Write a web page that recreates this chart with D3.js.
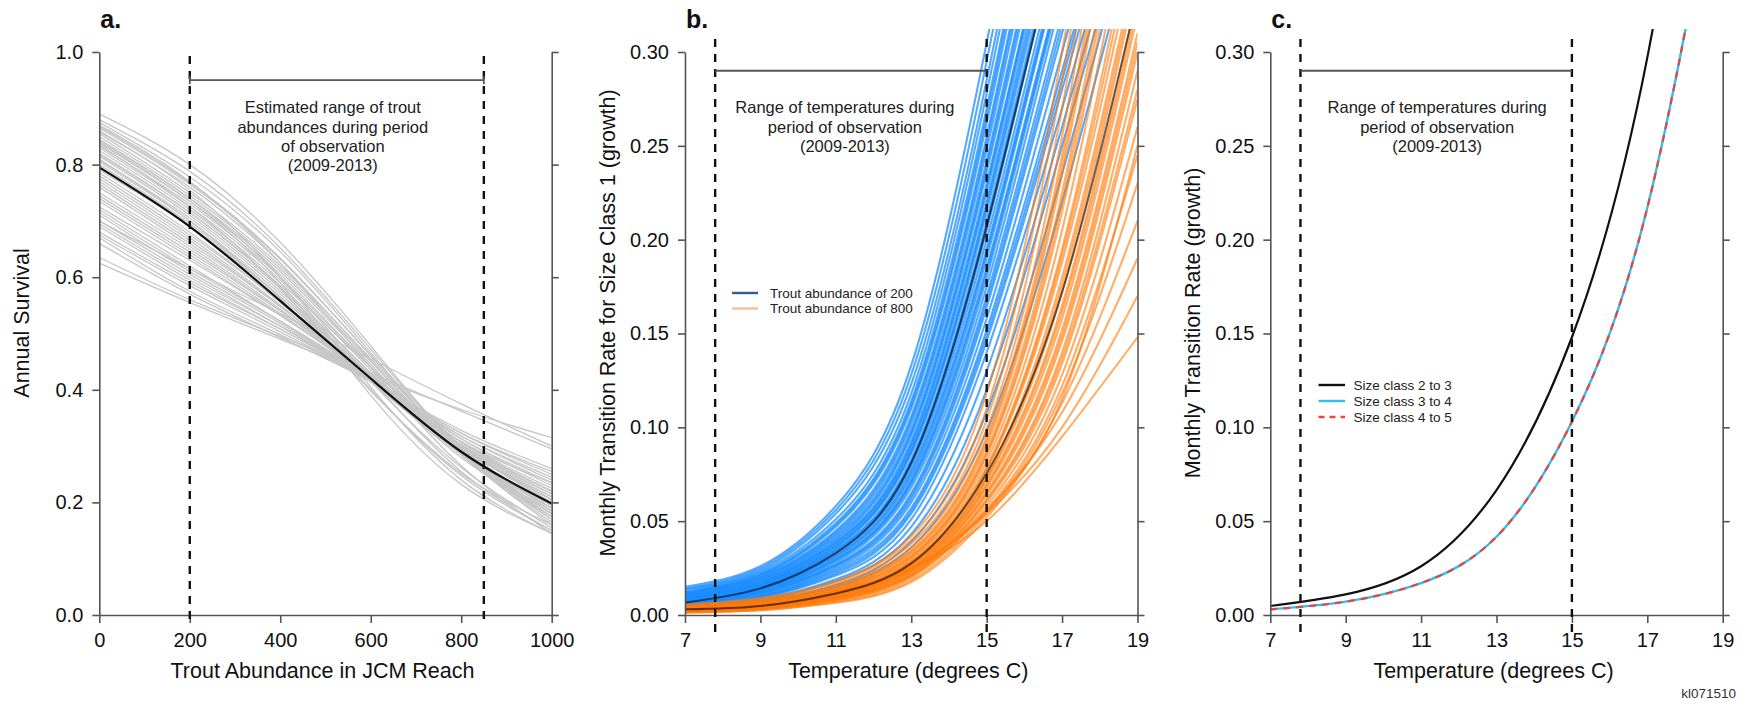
<!DOCTYPE html>
<html>
<head>
<meta charset="utf-8">
<script src="https://cdn.jsdelivr.net/npm/d3@7"></script>
<style>
  html, body { margin: 0; padding: 0; background: #ffffff; }
  svg { display: block; }
</style>
</head>
<body>
<svg id="chart" width="1751" height="703"></svg>
<script>
// ---------------- DATA ----------------
// Panel a: annual survival vs trout abundance
const abundanceX = [0, 200, 400, 600, 800, 1000];
const abundanceTicks = [0, 200, 400, 600, 800, 1000];
const survivalTicks = [0, 0.2, 0.4, 0.6, 0.8, 1.0];
const abundanceRange = [200, 850];
const survivalMean = [0.795, 0.690, 0.558, 0.420, 0.290, 0.198];
const survivalDraws = [
  [0.890, 0.800, 0.662, 0.478, 0.295, 0.170],
  [0.880, 0.788, 0.652, 0.472, 0.298, 0.180],
  [0.875, 0.778, 0.645, 0.466, 0.288, 0.160],
  [0.870, 0.770, 0.625, 0.440, 0.265, 0.145],
  [0.868, 0.768, 0.634, 0.460, 0.292, 0.175],
  [0.865, 0.765, 0.632, 0.462, 0.300, 0.185],
  [0.860, 0.755, 0.600, 0.405, 0.240, 0.145],
  [0.858, 0.760, 0.625, 0.452, 0.285, 0.165],
  [0.855, 0.750, 0.620, 0.455, 0.295, 0.180],
  [0.850, 0.745, 0.615, 0.450, 0.295, 0.190],
  [0.845, 0.740, 0.600, 0.420, 0.255, 0.150],
  [0.843, 0.740, 0.610, 0.445, 0.285, 0.170],
  [0.840, 0.735, 0.590, 0.390, 0.232, 0.145],
  [0.838, 0.735, 0.605, 0.440, 0.290, 0.180],
  [0.835, 0.725, 0.580, 0.400, 0.248, 0.150],
  [0.833, 0.730, 0.600, 0.440, 0.295, 0.195],
  [0.830, 0.725, 0.595, 0.435, 0.285, 0.175],
  [0.825, 0.720, 0.590, 0.440, 0.300, 0.200],
  [0.820, 0.715, 0.582, 0.415, 0.262, 0.155],
  [0.818, 0.715, 0.585, 0.430, 0.285, 0.180],
  [0.815, 0.710, 0.580, 0.430, 0.290, 0.190],
  [0.810, 0.700, 0.562, 0.398, 0.252, 0.160],
  [0.808, 0.705, 0.575, 0.425, 0.285, 0.185],
  [0.805, 0.700, 0.570, 0.425, 0.290, 0.195],
  [0.800, 0.695, 0.565, 0.420, 0.280, 0.175],
  [0.790, 0.690, 0.565, 0.428, 0.297, 0.205],
  [0.785, 0.680, 0.555, 0.418, 0.287, 0.190],
  [0.780, 0.675, 0.557, 0.425, 0.298, 0.210],
  [0.775, 0.670, 0.550, 0.415, 0.286, 0.195],
  [0.770, 0.665, 0.548, 0.418, 0.290, 0.195],
  [0.765, 0.660, 0.548, 0.422, 0.300, 0.215],
  [0.760, 0.655, 0.543, 0.418, 0.296, 0.205],
  [0.750, 0.650, 0.540, 0.420, 0.302, 0.215],
  [0.745, 0.645, 0.540, 0.425, 0.307, 0.220],
  [0.740, 0.640, 0.535, 0.418, 0.298, 0.205],
  [0.735, 0.635, 0.532, 0.420, 0.303, 0.220],
  [0.725, 0.630, 0.532, 0.425, 0.313, 0.230],
  [0.720, 0.620, 0.522, 0.415, 0.298, 0.210],
  [0.715, 0.615, 0.522, 0.420, 0.308, 0.225],
  [0.710, 0.610, 0.518, 0.415, 0.303, 0.220],
  [0.700, 0.605, 0.513, 0.415, 0.308, 0.235],
  [0.700, 0.615, 0.535, 0.455, 0.375, 0.300],
  [0.695, 0.600, 0.513, 0.420, 0.318, 0.240],
  [0.690, 0.595, 0.508, 0.415, 0.313, 0.235],
  [0.680, 0.590, 0.508, 0.420, 0.323, 0.250],
  [0.675, 0.585, 0.503, 0.415, 0.318, 0.245],
  [0.670, 0.575, 0.498, 0.415, 0.323, 0.255],
  [0.660, 0.570, 0.493, 0.415, 0.328, 0.260],
  [0.635, 0.560, 0.495, 0.430, 0.362, 0.295],
  [0.625, 0.555, 0.490, 0.425, 0.365, 0.315]
];

// Panel b & c: monthly transition rate vs temperature
const tempX = [7, 9, 11, 13, 15, 17, 19];
const tempTicks = [7, 9, 11, 13, 15, 17, 19];
const rateTicks = [0, 0.05, 0.10, 0.15, 0.20, 0.25, 0.30];
const tempRange = [7.8, 15];

const growth200Mean = [0.0066, 0.0142, 0.0330, 0.0810, 0.207, 0.370, 0.520];
const growth200Draws = [
  [0.0150, 0.0260, 0.058, 0.133, 0.305, 0.50, 0.65],
  [0.0140, 0.0250, 0.056, 0.128, 0.295, 0.49, 0.64],
  [0.0135, 0.0240, 0.054, 0.123, 0.285, 0.48, 0.63],
  [0.0125, 0.0230, 0.051, 0.118, 0.278, 0.47, 0.62],
  [0.0120, 0.0222, 0.049, 0.114, 0.270, 0.46, 0.61],
  [0.0118, 0.0215, 0.048, 0.112, 0.266, 0.455, 0.60],
  [0.0115, 0.0212, 0.047, 0.110, 0.262, 0.45, 0.60],
  [0.0110, 0.0205, 0.045, 0.106, 0.255, 0.44, 0.59],
  [0.0108, 0.0200, 0.044, 0.104, 0.252, 0.435, 0.58],
  [0.0105, 0.0198, 0.043, 0.102, 0.248, 0.43, 0.58],
  [0.0100, 0.0190, 0.042, 0.099, 0.242, 0.42, 0.57],
  [0.0098, 0.0186, 0.041, 0.097, 0.239, 0.415, 0.56],
  [0.0096, 0.0183, 0.040, 0.096, 0.236, 0.41, 0.56],
  [0.0092, 0.0176, 0.039, 0.093, 0.230, 0.40, 0.55],
  [0.0090, 0.0173, 0.0385, 0.091, 0.228, 0.40, 0.55],
  [0.0088, 0.0170, 0.038, 0.090, 0.225, 0.395, 0.54],
  [0.0084, 0.0165, 0.037, 0.088, 0.220, 0.39, 0.53],
  [0.0082, 0.0162, 0.0365, 0.087, 0.218, 0.385, 0.53],
  [0.0080, 0.0160, 0.036, 0.086, 0.215, 0.38, 0.52],
  [0.0076, 0.0155, 0.035, 0.083, 0.210, 0.375, 0.52],
  [0.0074, 0.0152, 0.0345, 0.082, 0.208, 0.372, 0.52],
  [0.0072, 0.0150, 0.034, 0.081, 0.205, 0.37, 0.51],
  [0.0068, 0.0145, 0.033, 0.079, 0.200, 0.36, 0.50],
  [0.0066, 0.0140, 0.032, 0.077, 0.195, 0.355, 0.50],
  [0.0065, 0.0138, 0.0315, 0.0755, 0.193, 0.352, 0.50],
  [0.0063, 0.0135, 0.031, 0.074, 0.190, 0.35, 0.49],
  [0.0060, 0.0130, 0.030, 0.072, 0.185, 0.34, 0.48],
  [0.0059, 0.0128, 0.0295, 0.071, 0.183, 0.338, 0.48],
  [0.0058, 0.0126, 0.029, 0.070, 0.180, 0.335, 0.47],
  [0.0056, 0.0122, 0.028, 0.068, 0.175, 0.33, 0.47],
  [0.0054, 0.0118, 0.027, 0.065, 0.170, 0.32, 0.46],
  [0.0053, 0.0115, 0.0265, 0.0635, 0.167, 0.315, 0.46],
  [0.0052, 0.0112, 0.026, 0.062, 0.164, 0.31, 0.45],
  [0.0050, 0.0106, 0.025, 0.060, 0.158, 0.30, 0.44],
  [0.0048, 0.0100, 0.024, 0.057, 0.152, 0.29, 0.43],
  [0.0047, 0.0098, 0.023, 0.0555, 0.149, 0.285, 0.43],
  [0.0046, 0.0095, 0.022, 0.054, 0.146, 0.28, 0.42],
  [0.0045, 0.0090, 0.021, 0.051, 0.140, 0.27, 0.41],
  [0.0043, 0.0083, 0.019, 0.047, 0.130, 0.26, 0.40],
  [0.0042, 0.0078, 0.018, 0.043, 0.120, 0.25, 0.39],
  [0.0040, 0.0072, 0.016, 0.039, 0.108, 0.235, 0.38],
  [0.0038, 0.0068, 0.015, 0.036, 0.098, 0.22, 0.37]
];

const growth800Mean = [0.0030, 0.0048, 0.0115, 0.0275, 0.0755, 0.172, 0.330];
const growth800Draws = [
  [0.0055, 0.0090, 0.0180, 0.0420, 0.118, 0.300, 0.56],
  [0.0050, 0.0085, 0.0170, 0.0400, 0.110, 0.285, 0.54],
  [0.0047, 0.0080, 0.0160, 0.0380, 0.104, 0.270, 0.52],
  [0.0044, 0.0075, 0.0152, 0.0360, 0.099, 0.255, 0.50],
  [0.0042, 0.0071, 0.0145, 0.0345, 0.095, 0.245, 0.48],
  [0.0041, 0.0069, 0.0142, 0.0338, 0.093, 0.240, 0.47],
  [0.0040, 0.0067, 0.0140, 0.0330, 0.091, 0.235, 0.46],
  [0.0038, 0.0064, 0.0134, 0.0318, 0.088, 0.225, 0.44],
  [0.0037, 0.0062, 0.0131, 0.0312, 0.086, 0.220, 0.43],
  [0.0036, 0.0061, 0.0129, 0.0306, 0.085, 0.215, 0.42],
  [0.0034, 0.0058, 0.0124, 0.0296, 0.082, 0.205, 0.40],
  [0.0033, 0.0055, 0.0120, 0.0287, 0.079, 0.195, 0.38],
  [0.0032, 0.0054, 0.0118, 0.0283, 0.078, 0.192, 0.37],
  [0.0031, 0.0052, 0.0116, 0.0278, 0.077, 0.188, 0.36],
  [0.0030, 0.0050, 0.0112, 0.0270, 0.074, 0.180, 0.35],
  [0.0029, 0.0048, 0.0110, 0.0266, 0.073, 0.176, 0.345],
  [0.0028, 0.0047, 0.0108, 0.0262, 0.072, 0.172, 0.34],
  [0.0027, 0.0045, 0.0104, 0.0254, 0.070, 0.165, 0.33],
  [0.0026, 0.0044, 0.0102, 0.0250, 0.069, 0.162, 0.325],
  [0.0025, 0.0042, 0.0100, 0.0246, 0.068, 0.158, 0.32],
  [0.0024, 0.0040, 0.0096, 0.0238, 0.066, 0.152, 0.31],
  [0.0023, 0.0039, 0.0094, 0.0234, 0.065, 0.149, 0.305],
  [0.0022, 0.0038, 0.0092, 0.0230, 0.064, 0.146, 0.30],
  [0.0021, 0.0036, 0.0088, 0.0222, 0.062, 0.140, 0.29],
  [0.0020, 0.0035, 0.0086, 0.0218, 0.061, 0.137, 0.28],
  [0.0019, 0.0034, 0.0084, 0.0214, 0.060, 0.134, 0.275],
  [0.0018, 0.0032, 0.0080, 0.0206, 0.058, 0.128, 0.26],
  [0.0016, 0.0030, 0.0076, 0.0198, 0.056, 0.122, 0.245],
  [0.0014, 0.0027, 0.0070, 0.0185, 0.054, 0.118, 0.23],
  [0.0012, 0.0025, 0.0065, 0.0175, 0.052, 0.113, 0.21],
  [0.0025, 0.0045, 0.0095, 0.0210, 0.055, 0.115, 0.25],
  [0.0030, 0.0055, 0.0110, 0.0240, 0.056, 0.108, 0.19],
  [0.0035, 0.0060, 0.0120, 0.0250, 0.054, 0.100, 0.17],
  [0.0040, 0.0065, 0.0125, 0.0250, 0.050, 0.095, 0.148]
];

const sizeClass23 = [0.0048, 0.0110, 0.0260, 0.0666, 0.148, 0.297, 0.55];
const sizeClass34 = [0.0030, 0.0071, 0.0170, 0.0417, 0.103, 0.217, 0.42];
const sizeClass45 = [0.0030, 0.0071, 0.0170, 0.0417, 0.103, 0.217, 0.42];

const legendB = ["Trout abundance of 200", "Trout abundance of 800"];
const legendC = ["Size class 2 to 3", "Size class 3 to 4", "Size class 4 to 5"];

// ---------------- LAYOUT / STYLE ----------------
const FONT = "'Liberation Sans', Arial, Helvetica, sans-serif";
const TOP = 52, BOTTOM = 615, CLIP_TOP = 29;
const AXIS_COLOR = "#555";
const svg = d3.select("#chart");
const defs = svg.append("defs");

function makePanel(p) {
  const x = d3.scaleLinear().domain(p.xDomain).range([p.x0, p.x1]);
  const y = d3.scaleLinear().domain(p.yDomain).range([BOTTOM, TOP]);
  const g = svg.append("g").attr("class", "panel-" + p.key);
  defs.append("clipPath").attr("id", "clip-" + p.key)
    .append("rect").attr("x", p.x0).attr("y", CLIP_TOP)
    .attr("width", p.x1 - p.x0).attr("height", BOTTOM - CLIP_TOP);
  const plot = g.append("g").attr("clip-path", `url(#clip-${p.key})`);
  return { x, y, g, plot };
}

function drawAxes(g, x, y, p) {
  const left = g.append("g").attr("transform", `translate(${p.x0},0)`)
    .call(d3.axisLeft(y).tickValues(p.yTicks).tickFormat(p.yFmt)
      .tickSize(7).tickPadding(9).tickSizeOuter(0));
  const right = g.append("g").attr("transform", `translate(${p.x1},0)`)
    .call(d3.axisRight(y).tickValues(p.yTicks).tickFormat("")
      .tickSize(7).tickSizeOuter(0));
  const bottom = g.append("g").attr("transform", `translate(0,${BOTTOM})`)
    .call(d3.axisBottom(x).tickValues(p.xTicks).tickFormat(d3.format("d"))
      .tickSize(8).tickPadding(10).tickSizeOuter(0));
  [left, right, bottom].forEach(a => {
    a.attr("font-family", FONT).attr("font-size", 20).attr("color", AXIS_COLOR);
    a.selectAll("path.domain").attr("stroke-width", 1.6);
    a.selectAll(".tick line").attr("stroke-width", 1.6);
    a.selectAll(".tick text").attr("fill", "#111");
  });
  g.append("text")
    .attr("x", (p.x0 + p.x1) / 2 - 3).attr("y", 678)
    .attr("text-anchor", "middle").attr("font-family", FONT)
    .attr("font-size", 21.5).attr("fill", "#111").text(p.xTitle);
  g.append("text")
    .attr("transform", `translate(${p.x0 - 70},323) rotate(-90)`)
    .attr("text-anchor", "middle").attr("font-family", FONT)
    .attr("font-size", 21.5).attr("fill", "#111").text(p.yTitle);
  g.append("text")
    .attr("x", p.x0 + 1).attr("y", 28)
    .attr("font-family", FONT).attr("font-weight", "bold")
    .attr("font-size", 25).attr("fill", "#111").text(p.key + ".");
}

function lineGen(x, y, xs) {
  return d3.line().x((d, i) => x(xs[i])).y(d => y(d)).curve(d3.curveNatural);
}

function dashedRange(g, x, xs, y1, y2) {
  xs.forEach(v => {
    g.append("line")
      .attr("x1", x(v)).attr("x2", x(v)).attr("y1", y1).attr("y2", y2)
      .attr("stroke", "#111").attr("stroke-width", 2.4)
      .attr("stroke-dasharray", "8,7");
  });
}

function annotation(g, cx, lines, y0, step) {
  lines.forEach((t, i) => {
    g.append("text").attr("x", cx).attr("y", y0 + i * step)
      .attr("text-anchor", "middle").attr("font-family", FONT)
      .attr("font-size", 16.5).attr("fill", "#222").text(t);
  });
}

// ---------------- PANEL A ----------------
{
  const p = { key: "a", x0: 99.3, x1: 551.7, xDomain: [0, 1000], yDomain: [0, 1],
    xTicks: abundanceTicks, yTicks: survivalTicks, yFmt: d3.format(".1f"),
    xTitle: "Trout Abundance in JCM Reach", yTitle: "Annual Survival" };
  const { x, y, g, plot } = makePanel(p);
  const lg = lineGen(x, y, abundanceX);
  plot.selectAll("path.draw").data(survivalDraws).join("path")
    .attr("class", "draw").attr("d", lg)
    .attr("fill", "none").attr("stroke", "#c6c6c6").attr("stroke-width", 1.3);
  plot.append("path").datum(survivalMean).attr("d", lg)
    .attr("fill", "none").attr("stroke", "#111").attr("stroke-width", 2.2);
  drawAxes(g, x, y, p);
  dashedRange(g, x, abundanceRange, 56, 622);
  const by = y(0.95);
  g.append("line").attr("x1", x(abundanceRange[0])).attr("x2", x(abundanceRange[1]))
    .attr("y1", by).attr("y2", by).attr("stroke", AXIS_COLOR).attr("stroke-width", 1.8);
  abundanceRange.forEach(v => g.append("line")
    .attr("x1", x(v)).attr("x2", x(v)).attr("y1", by - 4).attr("y2", by + 4)
    .attr("stroke", AXIS_COLOR).attr("stroke-width", 1.8));
  annotation(g, (x(abundanceRange[0]) + x(abundanceRange[1])) / 2 - 4,
    ["Estimated range of trout", "abundances during period", "of observation", "(2009-2013)"], 113.3, 19.2);
}

// ---------------- PANEL B ----------------
{
  const p = { key: "b", x0: 685, x1: 1137.5, xDomain: [7, 19], yDomain: [0, 0.3],
    xTicks: tempTicks, yTicks: rateTicks, yFmt: d3.format(".2f"),
    xTitle: "Temperature (degrees C)", yTitle: "Monthly Transition Rate for Size Class 1 (growth)" };
  const { x, y, g, plot } = makePanel(p);
  const lg = lineGen(x, y, tempX);
  plot.selectAll("path.blue").data(growth200Draws).join("path")
    .attr("class", "blue").attr("d", lg)
    .attr("fill", "none").attr("stroke", "#1a8cff").attr("stroke-opacity", 0.75)
    .attr("stroke-width", 2.1);
  plot.selectAll("path.orange").data(growth800Draws).join("path")
    .attr("class", "orange").attr("d", lg)
    .attr("fill", "none").attr("stroke", "#ff7a0a").attr("stroke-opacity", 0.62)
    .attr("stroke-width", 2.1);
  [growth200Mean, growth800Mean].forEach(m => plot.append("path").datum(m).attr("d", lg)
    .attr("fill", "none").attr("stroke", "#000").attr("stroke-opacity", 0.6)
    .attr("stroke-width", 2));
  drawAxes(g, x, y, p);
  dashedRange(g, x, tempRange, 39, 637);
  const by = y(0.29);
  g.append("line").attr("x1", x(tempRange[0])).attr("x2", x(tempRange[1]))
    .attr("y1", by).attr("y2", by).attr("stroke", AXIS_COLOR).attr("stroke-width", 1.8);
  annotation(g, (x(tempRange[0]) + x(tempRange[1])) / 2 - 6,
    ["Range of temperatures during", "period of observation", "(2009-2013)"], 113, 19.5);
  const legColors = ["#2b5d94", "#f8be92"];
  legendB.forEach((t, i) => {
    const ly = 293 + i * 15.5;
    g.append("line").attr("x1", 732).attr("x2", 758).attr("y1", ly).attr("y2", ly)
      .attr("stroke", legColors[i]).attr("stroke-width", 2.4);
    g.append("text").attr("x", 770).attr("y", ly).attr("dy", "0.36em")
      .attr("font-family", FONT).attr("font-size", 13.5).attr("fill", "#222").text(t);
  });
}

// ---------------- PANEL C ----------------
{
  const p = { key: "c", x0: 1270.3, x1: 1722.7, xDomain: [7, 19], yDomain: [0, 0.3],
    xTicks: tempTicks, yTicks: rateTicks, yFmt: d3.format(".2f"),
    xTitle: "Temperature (degrees C)", yTitle: "Monthly Transition Rate (growth)" };
  const { x, y, g, plot } = makePanel(p);
  const lg = lineGen(x, y, tempX);
  plot.append("path").datum(sizeClass23).attr("d", lg)
    .attr("fill", "none").attr("stroke", "#111").attr("stroke-width", 2.2);
  plot.append("path").datum(sizeClass34).attr("d", lg)
    .attr("fill", "none").attr("stroke", "#2fbdf2").attr("stroke-width", 2.4);
  plot.append("path").datum(sizeClass45).attr("d", lg)
    .attr("fill", "none").attr("stroke", "#e8453f").attr("stroke-width", 2.2)
    .attr("stroke-dasharray", "7,6");
  drawAxes(g, x, y, p);
  dashedRange(g, x, tempRange, 39, 637);
  const by = y(0.29);
  g.append("line").attr("x1", x(tempRange[0])).attr("x2", x(tempRange[1]))
    .attr("y1", by).attr("y2", by).attr("stroke", AXIS_COLOR).attr("stroke-width", 1.8);
  annotation(g, (x(tempRange[0]) + x(tempRange[1])) / 2 + 1,
    ["Range of temperatures during", "period of observation", "(2009-2013)"], 113, 19.5);
  const legStyles = [
    { c: "#111", d: null }, { c: "#2fbdf2", d: null }, { c: "#e8453f", d: "6,5" }
  ];
  legendC.forEach((t, i) => {
    const ly = 385 + i * 16;
    const ln = g.append("line").attr("x1", 1318.5).attr("x2", 1345).attr("y1", ly).attr("y2", ly)
      .attr("stroke", legStyles[i].c).attr("stroke-width", 2.4);
    if (legStyles[i].d) ln.attr("stroke-dasharray", legStyles[i].d);
    g.append("text").attr("x", 1353.5).attr("y", ly).attr("dy", "0.36em")
      .attr("font-family", FONT).attr("font-size", 13.5).attr("fill", "#222").text(t);
  });
  g.append("text").attr("x", 1736).attr("y", 698).attr("text-anchor", "end")
    .attr("font-family", FONT).attr("font-size", 13.5).attr("fill", "#333").text("kl071510");
}
</script>
</body>
</html>
